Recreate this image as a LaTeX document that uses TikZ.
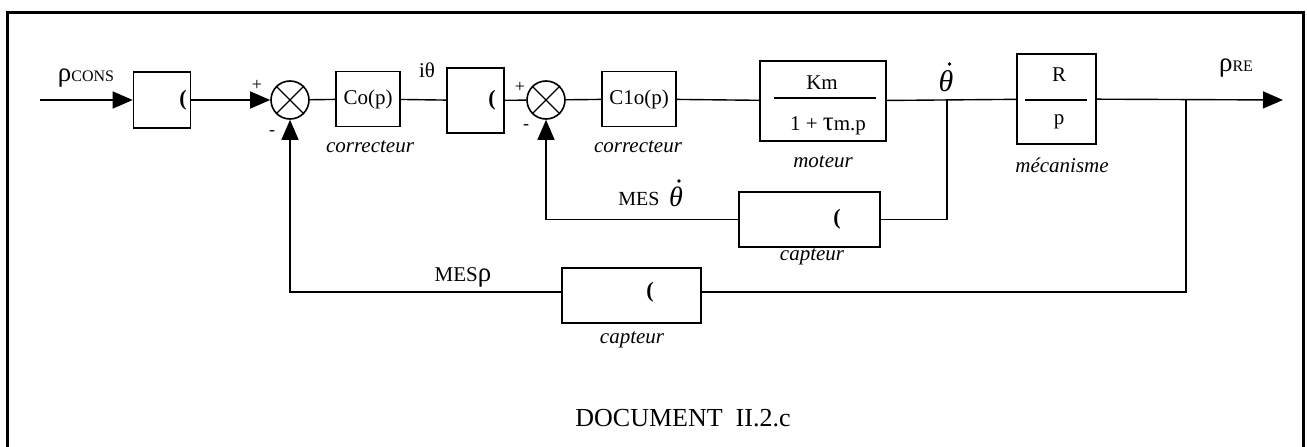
\documentclass[tikz,border=0pt]{standalone}
\usepackage{fontspec}
\setmainfont{Liberation Serif}
\usetikzlibrary{arrows.meta}
\newcommand\myfs[1]{\fontsize{#1}{#1}\selectfont}
\begin{document}
\begin{tikzpicture}[x=1pt,y=-1pt,line width=1.4pt,
  blk/.style={draw,line width=1.6pt,inner sep=0pt},
  sumj/.style={draw,circle,minimum size=38pt,inner sep=0pt,line width=1.6pt},
  arr/.style={-{Triangle[length=20pt,width=17pt]}},
  lbl/.style={inner sep=0pt,font=\myfs{21}},
  ital/.style={inner sep=0pt,font=\myfs{21}\itshape},
  sgn/.style={inner sep=0pt,font=\myfs{18}},
  bigth/.style={inner sep=0pt,font=\myfs{30}\itshape},
  moon/.style={inner sep=0pt,font=\myfs{22}\bfseries}]
\useasboundingbox (0,0) rectangle (1307,447);
% frame
\draw[line width=3pt] (7,452) -- (7,12) -- (1303,12) -- (1303,452);

% blocks on main line
\node[blk,minimum width=57pt,minimum height=56pt] (b1) at (162,100) {};
\node[sumj] (s1) at (290,100) {};
\node[blk,minimum width=64pt,minimum height=55pt,font=\myfs{21}] (cop) at (368,99) {Co(p)};
\node[blk,minimum width=57pt,minimum height=65pt] (b2) at (475.5,100.5) {};
\node[sumj] (s2) at (546,100) {};
\node[blk,minimum width=74pt,minimum height=55pt,font=\myfs{21}] (c1o) at (639,99) {C1o(p)};
\node[blk,minimum width=126pt,minimum height=80pt] (mot) at (823,101) {};
\node[blk,minimum width=79pt,minimum height=90pt] (rp) at (1056.5,99) {};
\node[blk,minimum width=141pt,minimum height=55pt] (cap1) at (809.5,219.5) {};
\node[blk,minimum width=139pt,minimum height=55pt] (cap2) at (631.5,295.5) {};

% summing junction crosses
\foreach \s in {s1,s2}{
  \draw[line width=1.4pt] (\s.45) -- (\s.225) (\s.135) -- (\s.315);
}

% fractions inside blocks
\draw[line width=1.4pt] (774,98) -- (876,98);
\node[lbl] (km) at (822,83) {Km};
\node[lbl] (den) at (828,126) {1 + {\myfs{27}τ}m.p};
\draw[line width=1.4pt] (1025,100) -- (1087,100);
\node[lbl] (rr) at (1059,75) {R};
\node[lbl] (pp) at (1059,122) {p};

% crescent glyphs
\node[moon] (m1) at (183,100) {(};
\node[moon] (m2) at (492,100) {(};
\node[moon] (m3) at (837,219) {(};
\node[moon] (m4) at (650,292) {(};

% coordinates
\coordinate (in) at (40,100);
\coordinate (jt) at (947,100);
\coordinate (jr) at (1186,100);
\coordinate (out) at (1283,100);
\coordinate (jrb) at (1186,292);

% main line
\draw[arr] (in) -- (b1);
\draw[arr] (b1) -- (s1);
\draw (s1) -- (cop);
\draw (cop) -- (b2);
\draw (b2) -- (s2);
\draw (s2) -- (c1o);
\draw (c1o) -- (mot);
\draw (mot) -- (rp);
\draw[arr] (rp) -- (out);

% inner feedback
\draw (jt) -- (jt |- cap1) -- (cap1);
\draw[arr] (cap1) -- (s2 |- cap1) -- (s2);
% outer feedback
\draw (jr) -- (jrb) -- (cap2.east |- jrb);
\draw[arr] (cap2.west |- jrb) -- (s1 |- jrb) -- (s1);

% labels
\node[inner sep=0pt] (rcons) at (86,78) {{\myfs{27}ρ}{\myfs{16}CONS}};
\node[sgn] (p1) at (257,85) {+};
\node[sgn] (n1) at (272,133) {-};
\node[sgn] (p2) at (520,87) {+};
\node[sgn] (n2) at (526,127) {-};
\node[ital] (cor1) at (370,147) {correcteur};
\node[lbl] (ith) at (427,70) {iθ};
\node[ital] (cor2) at (638,147) {correcteur};
\node[ital] (motl) at (823,162) {moteur};
\node[bigth] (thd) at (946,81) {θ};
\fill (949.5,64) circle (1.9pt);
\node[ital] (meca) at (1062,165) {mécanisme};
\node[inner sep=0pt] (rre) at (1236,68) {{\myfs{27}ρ}{\myfs{16}RE}};
\node[lbl,font=\myfs{20}] (mes) at (639,199) {MES};
\node[bigth,font=\myfs{28}\itshape] (mth) at (676,197) {θ};
\fill (679,181) circle (1.8pt);
\node[ital] (capl1) at (812,257) {capteur};
\node[lbl] (mesr) at (463,277) {MES{\myfs{27}ρ}};
\node[ital] (capl2) at (632,340) {capteur};
\node[inner sep=0pt,font=\myfs{26}] (doc) at (683,418) {DOCUMENT\ \ II.2.c};
\end{tikzpicture}
\end{document}
